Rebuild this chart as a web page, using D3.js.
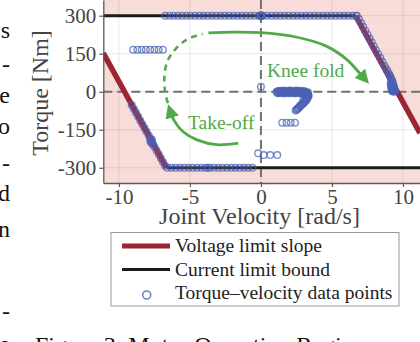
<!DOCTYPE html>
<html>
<head>
<meta charset="utf-8">
<script src="https://cdn.jsdelivr.net/npm/d3@7"></script>
<style>
  body { margin: 0; background: #fff; }
  svg { display: block; font-family: "Liberation Serif", "Times New Roman", serif; }
</style>
</head>
<body>
<svg id="chart" width="420" height="342"></svg>
<script>
// axis ticks
var velTicks = [-10, -5, 0, 5, 10];
var torqueTicks = [-300, -150, 0, 150, 300];

// motor limits
var torqueLimit = 300;      // Nm, current limit
var noLoadVel = 9.6;        // rad/s, where voltage line crosses zero
var voltageSlope = -102;    // Nm per rad/s

// torque-velocity samples [velocity, torque]
var topRow = [[-6.75,300],[-6.45,300],[-6.15,300],[-5.85,300],[-5.55,300],[-5.25,300],[-4.95,300],[-4.65,300],
  [-4.35,300],[-4.05,300],[-3.75,300],[-3.45,300],[-3.15,300],[-2.85,300],[-2.55,300],[-2.25,300],[-1.95,300],
  [-1.65,300],[-1.35,300],[-1.05,300],[-0.75,300],[-0.45,300],[-0.15,300],[-0.05,300],[0,298],[0,302],[0.05,300],
  [0.02,299],[-0.02,301],[0.15,300],[0.45,300],[0.75,300],[1.05,300],[1.35,300],[1.65,300],[1.95,300],[2.25,300],
  [2.55,300],[2.85,300],[3.15,300],[3.45,300],[3.75,300],[4.05,300],[4.35,300],[4.65,300],[4.95,300],[5.25,300],
  [5.55,300],[5.85,300],[6.15,300],[6.45,300],[6.7,300]];
var bottomRow = [[-6.6,-300],[-6.3,-300],[-6.0,-300],[-5.7,-300],[-5.4,-300],[-5.1,-300],[-4.8,-300],[-4.5,-300],
  [-4.2,-300],[-3.9,-300],[-3.75,-300],[-3.6,-300],[-3.3,-300],[-3.0,-300],[-2.7,-300],[-2.4,-300],[-2.1,-300],
  [-1.8,-300],[-1.5,-300],[-1.2,-300],[-0.9,-300],[-0.6,-300]];
var rightSlope = [[6.75,300],[6.9,287],[7.05,272],[7.2,256],[7.35,241],[7.5,226],[7.65,210],[7.8,195],[7.95,180],
  [8.1,164],[8.25,149],[8.4,134],[8.55,118],[8.7,103],[8.8,93],[8.9,83],[9.0,72],[9.05,66],[9.1,60],[9.15,54],
  [9.2,48],[9.25,42],[9.28,36],[9.3,30],[9.33,25],[9.36,20],[9.38,15],[9.4,10],[9.42,6],[9.45,2],[9.3,14],
  [9.35,8],[9.25,22],[9.2,30],[9.22,12],[9.3,4],[9.15,20],[9.2,6],[9.27,18],[9.35,0],[9.4,3],[9.12,35],
  [9.18,26],[9.3,9],[9.25,2],[9.38,5]];
var leftSlope = [[-9.1,-52],[-8.95,-68],[-8.8,-83],[-8.65,-98],[-8.5,-113],[-8.35,-128],[-8.2,-143],[-8.05,-158],
  [-7.9,-173],[-7.8,-185],[-7.75,-190],[-7.7,-195],[-7.72,-200],[-7.65,-203],[-7.6,-208],[-7.78,-196],
  [-7.68,-188],[-7.5,-217],[-7.35,-232],[-7.2,-247],[-7.05,-262],[-6.9,-277],[-6.75,-292]];
var midLeft = [[-9.0,166],[-8.7,166],[-8.4,166],[-8.1,166],[-7.8,166],[-7.5,166],[-7.2,166],[-6.9,166]];
var kneeFold = [[1.1,0],[1.2,2],[1.3,-3],[1.4,1],[1.5,-2],[1.6,2],[1.7,-1],[1.8,-3],[1.9,1],[2.0,-2],[2.1,2],
  [2.2,-1],[2.3,-3],[2.4,1],[2.5,-2],[2.6,2],[2.7,-1],[2.8,1],[2.9,-3],[3.0,0],[3.1,-3],[3.2,-6],[3.3,-9],
  [3.35,-13],[3.35,-18],[3.3,-23],[3.25,-29],[3.2,-34],[3.1,-39],[3.0,-45],[2.9,-50],[2.8,-55],[2.7,-60],
  [2.6,-66],[2.5,-71],[2.45,-74],[1.2,-6],[1.6,-7],[2.0,-6],[2.4,-7],[2.8,-7],[3.2,-14],[3.0,-9],[2.6,4],
  [2.0,4],[1.4,4],[3.3,-2],[1.15,-3],[1.25,3],[1.35,-5],[1.45,3],[1.55,-4],[1.65,5],[1.75,-5],[1.85,3],
  [1.95,-4],[2.05,5],[2.15,-5],[2.25,3],[2.35,-4],[2.45,5],[2.55,-5],[2.65,1],[2.75,-4],[2.85,4],[2.95,-6],
  [3.05,3],[3.15,-9],[3.25,-4],[3.28,-16],[3.22,-24],[3.15,-31],[3.05,-38],[2.95,-44],[2.85,-50],[3.0,-30],
  [3.15,-20],[2.75,-56],[2.65,-63],[2.55,-68]];
var scattered = [[0,20],[1.5,-122],[1.8,-122],[2.1,-122],[2.4,-122],
  [-0.2,-243],[0.2,-250],[0.65,-250],[1.15,-250]];

// guide arrows [velocity, torque]
var kneeArc = [[-3.7,232],[-2.0,235],[0,233],[2.3,218],[4.6,180],[6.05,127],[7.0,70],[7.35,48]];
var linkArc = [[-6.55,-45],[-6.75,0],[-6.8,60],[-6.6,118],[-6.05,166],[-5.2,207],[-4.1,228]];
var takeoffArc = [[-1.6,-203],[-3.1,-209],[-4.5,-190],[-5.5,-157],[-6.1,-115],[-6.42,-70]];

// text cut off at the figure edges
var sideLetters = [["s",38],["-",72],["e",103],["o",134],["-",171],["d",201],["n",237],["-",319],["e",352]];
var captionText = "Figure 3: Motor Operation Regi";

d3.select(window).on('load', init);

function init() {
    var svg = d3.select('#chart');
    var left = 103.3, right = 420, top = 0, bottom = 183;

    var xScale = d3.scaleLinear().domain([-11.1, 11.2]).range([left, right]);
    var yScale = d3.scaleLinear().domain([-360, 362]).range([bottom, top]);

    var xMin = xScale.domain()[0], xMax = xScale.domain()[1];
    function rightLine(w) { return voltageSlope * (w - noLoadVel); }
    function leftLine(w) { return voltageSlope * (w + noLoadVel); }
    var corner = noLoadVel - torqueLimit / -voltageSlope;

    svg.append('clipPath').attr('id', 'plotclip')
        .append('rect').attr('x', left).attr('y', top)
        .attr('width', right - left).attr('height', bottom - top);

    var plot = svg.append('g').attr('clip-path', 'url(#plotclip)');

    // infeasible area is pink, feasible hexagon white
    plot.append('rect')
        .attr('x', left).attr('y', top)
        .attr('width', right - left).attr('height', bottom - top)
        .attr('fill', '#f8dcd8');
    var hexagon = [[xMin, torqueLimit], [corner, torqueLimit], [xMax, rightLine(xMax)],
        [xMax, -torqueLimit], [-corner, -torqueLimit], [xMin, leftLine(xMin)]];
    plot.append('polygon')
        .attr('points', hexagon.map(function(d) { return xScale(d[0]) + ',' + yScale(d[1]); }).join(' '))
        .attr('fill', '#fff');

    // grid
    plot.selectAll('.gx').data(velTicks).enter().append('line')
        .attr('x1', function(d) { return xScale(d); }).attr('x2', function(d) { return xScale(d); })
        .attr('y1', top).attr('y2', bottom)
        .attr('stroke', '#000').attr('stroke-opacity', 0.09).attr('stroke-width', 1);
    plot.selectAll('.gy').data(torqueTicks).enter().append('line')
        .attr('y1', function(d) { return yScale(d); }).attr('y2', function(d) { return yScale(d); })
        .attr('x1', left).attr('x2', right)
        .attr('stroke', '#000').attr('stroke-opacity', 0.09).attr('stroke-width', 1);

    // zero lines
    plot.append('line')
        .attr('x1', xScale(0)).attr('x2', xScale(0)).attr('y1', top).attr('y2', bottom)
        .attr('stroke', '#707070').attr('stroke-width', 2).attr('stroke-dasharray', '9,5');
    plot.append('line')
        .attr('x1', left).attr('x2', right).attr('y1', yScale(0)).attr('y2', yScale(0))
        .attr('stroke', '#707070').attr('stroke-width', 2).attr('stroke-dasharray', '9,5');

    var line = d3.line()
        .x(function(d) { return xScale(d[0]); })
        .y(function(d) { return yScale(d[1]); });

    // current limit bound
    plot.append('path').datum([[xMin, torqueLimit], [corner, torqueLimit]])
        .attr('d', line).attr('stroke', '#1b1b1b').attr('stroke-width', 3).attr('fill', 'none');
    plot.append('path').datum([[-corner, -torqueLimit], [xMax, -torqueLimit]])
        .attr('d', line).attr('stroke', '#1b1b1b').attr('stroke-width', 3).attr('fill', 'none');

    // voltage limit slope
    plot.append('path').datum([[corner, torqueLimit], [xMax, rightLine(xMax)]])
        .attr('d', line).attr('stroke', '#9c2434').attr('stroke-width', 5.5).attr('fill', 'none');
    plot.append('path').datum([[xMin, leftLine(xMin)], [-corner, -torqueLimit]])
        .attr('d', line).attr('stroke', '#9c2434').attr('stroke-width', 5.5).attr('fill', 'none');

    // data points
    var allPoints = [].concat(topRow, bottomRow, rightSlope, leftSlope, midLeft, kneeFold, scattered);
    plot.selectAll('circle.pt').data(allPoints).enter().append('circle')
        .attr('class', 'pt')
        .attr('cx', function(d) { return xScale(d[0]); })
        .attr('cy', function(d) { return yScale(d[1]); })
        .attr('r', 3.3)
        .attr('fill', 'none')
        .attr('stroke', '#4b61b6')
        .attr('stroke-opacity', 0.72)
        .attr('stroke-width', 1.4);

    // arrows
    var green = '#52a947';
    svg.append('defs').append('marker')
        .attr('id', 'head')
        .attr('viewBox', '0 0 10 10')
        .attr('refX', 6).attr('refY', 5)
        .attr('markerUnits', 'userSpaceOnUse')
        .attr('markerWidth', 14).attr('markerHeight', 14)
        .attr('orient', 'auto')
        .append('path').attr('d', 'M0,0 L10,5 L0,10 z').attr('fill', green);

    var curve = d3.line().curve(d3.curveCatmullRom)
        .x(function(d) { return xScale(d[0]); })
        .y(function(d) { return yScale(d[1]); });

    plot.append('path').datum(linkArc).attr('d', curve)
        .attr('fill', 'none').attr('stroke', green).attr('stroke-width', 2.6)
        .attr('stroke-dasharray', '6,5');
    plot.append('path').datum(kneeArc).attr('d', curve)
        .attr('fill', 'none').attr('stroke', green).attr('stroke-width', 2.8)
        .attr('marker-end', 'url(#head)');
    plot.append('path').datum(takeoffArc).attr('d', curve)
        .attr('fill', 'none').attr('stroke', green).attr('stroke-width', 2.8)
        .attr('marker-end', 'url(#head)');

    plot.append('text')
        .attr('x', xScale(0.42)).attr('y', yScale(59))
        .attr('fill', green).style('font-size', '19.5px')
        .text('Knee fold');
    plot.append('text')
        .attr('x', xScale(-5.14)).attr('y', yScale(-146))
        .attr('fill', green).style('font-size', '19.5px')
        .text('Take-off');

    // axes
    var xAxis = svg.append('g')
        .attr('transform', 'translate(0,' + bottom + ')')
        .call(d3.axisBottom(xScale).tickValues(velTicks).tickSize(4).tickPadding(2).tickSizeOuter(0)
            .tickFormat(function(d) { return String(d); }));
    var yAxis = svg.append('g')
        .attr('transform', 'translate(' + left + ',0)')
        .call(d3.axisLeft(yScale).tickValues(torqueTicks).tickSize(4).tickSizeOuter(0)
            .tickFormat(function(d) { return String(d); }));
    [xAxis, yAxis].forEach(function(a) {
        a.select('.domain').attr('stroke', '#5a5a5a').attr('stroke-width', 1.3);
        a.selectAll('.tick line').attr('stroke', '#5a5a5a').attr('stroke-width', 1.2);
        a.selectAll('.tick text').attr('fill', '#444')
            .style('font-family', '"Liberation Serif", serif').style('font-size', '21px');
    });

    // axis labels
    svg.append('text')
        .attr('transform', 'translate(48,93) rotate(-90)')
        .attr('text-anchor', 'middle')
        .attr('fill', '#444').style('font-size', '24px')
        .text('Torque [Nm]');
    svg.append('text')
        .attr('x', 259.5).attr('y', 224)
        .attr('text-anchor', 'middle')
        .attr('fill', '#444').style('font-size', '24px')
        .text('Joint Velocity [rad/s]');

    // legend
    var legend = svg.append('g');
    legend.append('rect')
        .attr('x', 111).attr('y', 232.5).attr('width', 288).attr('height', 73.5)
        .attr('fill', '#fff').attr('stroke', '#999').attr('stroke-width', 1);
    legend.append('line').attr('x1', 122).attr('x2', 170).attr('y1', 246).attr('y2', 246)
        .attr('stroke', '#9c2434').attr('stroke-width', 5);
    legend.append('line').attr('x1', 122).attr('x2', 170).attr('y1', 269.5).attr('y2', 269.5)
        .attr('stroke', '#1b1b1b').attr('stroke-width', 3);
    legend.append('circle').attr('cx', 146.7).attr('cy', 295).attr('r', 4)
        .attr('fill', 'none').attr('stroke', '#4b61b6').attr('stroke-opacity', 0.8).attr('stroke-width', 1.6);
    var legendItems = ['Voltage limit slope', 'Current limit bound', 'Torque\u2013velocity data points'];
    legend.selectAll('text').data(legendItems).enter().append('text')
        .attr('x', 175)
        .attr('y', function(d, i) { return 252 + i * 23.5; })
        .attr('fill', '#222').style('font-size', '19.5px')
        .text(function(d) { return d; });

    // surrounding page text, cut by the crop as in the source
    svg.selectAll('text.side').data(sideLetters).enter().append('text')
        .attr('class', 'side')
        .attr('x', 10).attr('y', function(d) { return d[1]; })
        .attr('text-anchor', 'end')
        .attr('fill', '#111').style('font-size', '24px')
        .text(function(d) { return d[0]; });
    svg.append('text')
        .attr('x', 35).attr('y', 352.5)
        .attr('fill', '#111').style('font-size', '24px')
        .text(captionText);
}
</script>
</body>
</html>
